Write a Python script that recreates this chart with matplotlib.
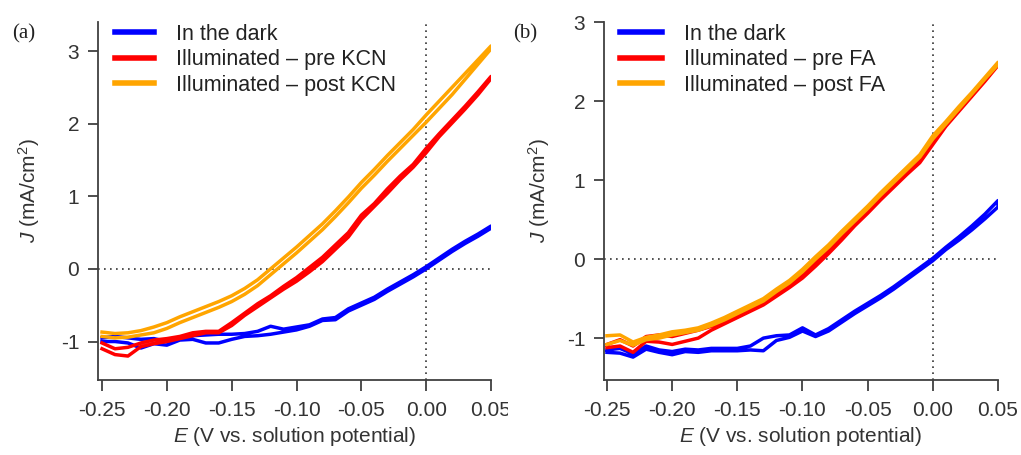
import matplotlib
matplotlib.use("Agg")
import matplotlib.pyplot as plt
from matplotlib.transforms import Bbox, TransformedBbox

plt.rcParams["font.family"] = ["Liberation Sans", "DejaVu Sans"]
plt.rcParams["mathtext.fontset"] = "custom"
plt.rcParams["mathtext.rm"] = "Liberation Sans"
plt.rcParams["mathtext.it"] = "Liberation Sans:italic"
plt.rcParams["axes.unicode_minus"] = False

# potential grid (V vs. solution potential), shared by every scan
E = [-0.25, -0.24, -0.23, -0.22, -0.21, -0.20, -0.19, -0.18, -0.17, -0.16,
     -0.15, -0.14, -0.13, -0.12, -0.11, -0.10, -0.09, -0.08, -0.07, -0.06,
     -0.05, -0.04, -0.03, -0.02, -0.01, 0.00, 0.01, 0.02, 0.03, 0.04, 0.05]

# (a) KCN treatment: forward / reverse current density (mA/cm2)
dark_a_fwd = [-0.95, -0.93, -0.95, -0.97, -0.96, -1.00, -0.96, -0.92, -0.91, -0.90,
              -0.90, -0.89, -0.86, -0.79, -0.83, -0.80, -0.77, -0.69, -0.67, -0.55,
              -0.47, -0.39, -0.28, -0.18, -0.08, 0.03, 0.15, 0.27, 0.38, 0.48, 0.59]
dark_a_rev = [-1.00, -1.00, -1.02, -1.09, -1.03, -1.05, -0.98, -0.97, -1.02, -1.02,
              -0.97, -0.93, -0.92, -0.90, -0.87, -0.84, -0.79, -0.71, -0.70, -0.58,
              -0.50, -0.42, -0.31, -0.21, -0.11, 0.00, 0.12, 0.24, 0.35, 0.45, 0.56]
pre_kcn_fwd = [-1.02, -1.10, -1.08, -1.02, -0.98, -0.96, -0.93, -0.88, -0.86, -0.86,
               -0.74, -0.61, -0.48, -0.37, -0.24, -0.12, 0.02, 0.16, 0.33, 0.50,
               0.74, 0.90, 1.10, 1.28, 1.44, 1.66, 1.86, 2.05, 2.24, 2.44, 2.65]
pre_kcn_rev = [-1.10, -1.18, -1.20, -1.07, -1.03, -1.00, -0.96, -0.92, -0.88, -0.88,
               -0.78, -0.64, -0.52, -0.40, -0.28, -0.17, -0.04, 0.10, 0.27, 0.44,
               0.68, 0.86, 1.04, 1.23, 1.40, 1.60, 1.82, 2.01, 2.20, 2.40, 2.62]
post_kcn_fwd = [-0.87, -0.89, -0.88, -0.85, -0.80, -0.74, -0.66, -0.59, -0.52, -0.45,
                -0.37, -0.27, -0.15, 0.00, 0.15, 0.30, 0.46, 0.62, 0.80, 0.99,
                1.19, 1.37, 1.56, 1.74, 1.92, 2.12, 2.31, 2.50, 2.69, 2.88, 3.07]
post_kcn_rev = [-0.93, -0.95, -0.94, -0.91, -0.88, -0.82, -0.74, -0.67, -0.60, -0.53,
                -0.45, -0.35, -0.23, -0.08, 0.07, 0.22, 0.38, 0.54, 0.72, 0.91,
                1.11, 1.29, 1.48, 1.66, 1.84, 2.02, 2.21, 2.40, 2.61, 2.82, 3.03]

# (b) FA treatment
dark_b_fwd = [-1.15, -1.13, -1.20, -1.10, -1.15, -1.17, -1.14, -1.15, -1.13, -1.13,
              -1.13, -1.10, -1.00, -0.97, -0.96, -0.87, -0.96, -0.88, -0.77, -0.66,
              -0.56, -0.46, -0.35, -0.23, -0.11, 0.01, 0.15, 0.28, 0.42, 0.57, 0.74]
dark_b_rev = [-1.18, -1.19, -1.24, -1.14, -1.18, -1.21, -1.17, -1.18, -1.16, -1.16,
              -1.16, -1.15, -1.16, -1.03, -0.99, -0.91, -0.98, -0.91, -0.80, -0.69,
              -0.59, -0.49, -0.38, -0.26, -0.14, -0.02, 0.12, 0.24, 0.37, 0.51, 0.66]
pre_fa_fwd = [-1.08, -1.02, -1.10, -0.98, -0.96, -0.98, -0.94, -0.90, -0.85, -0.78,
              -0.71, -0.63, -0.55, -0.44, -0.33, -0.20, -0.05, 0.11, 0.28, 0.45,
              0.61, 0.78, 0.94, 1.10, 1.26, 1.48, 1.70, 1.89, 2.08, 2.27, 2.47]
pre_fa_rev = [-1.12, -1.10, -1.18, -1.04, -1.05, -1.08, -1.04, -1.00, -0.90, -0.82,
              -0.74, -0.66, -0.58, -0.47, -0.36, -0.24, -0.09, 0.07, 0.24, 0.42,
              0.58, 0.75, 0.91, 1.07, 1.22, 1.45, 1.68, 1.87, 2.06, 2.25, 2.45]
post_fa_fwd = [-0.97, -0.96, -1.05, -0.99, -0.96, -0.92, -0.90, -0.87, -0.81, -0.74,
               -0.66, -0.58, -0.50, -0.38, -0.27, -0.13, 0.03, 0.18, 0.35, 0.51,
               0.67, 0.84, 1.00, 1.16, 1.32, 1.56, 1.74, 1.93, 2.11, 2.30, 2.49]
post_fa_rev = [-1.08, -1.03, -1.09, -1.02, -1.00, -0.96, -0.93, -0.90, -0.84, -0.77,
               -0.69, -0.61, -0.53, -0.41, -0.30, -0.16, 0.00, 0.15, 0.32, 0.48,
               0.64, 0.81, 0.97, 1.13, 1.29, 1.52, 1.71, 1.90, 2.09, 2.28, 2.46]

labels_a = ["In the dark", "Illuminated \u2013 pre KCN", "Illuminated \u2013 post KCN"]
labels_b = ["In the dark", "Illuminated \u2013 pre FA", "Illuminated \u2013 post FA"]
colors = ["#0000ff", "#ff0000", "#ffa500"]

x_ticks = [-0.25, -0.20, -0.15, -0.10, -0.05, 0.00, 0.05]
y_ticks = [-1, 0, 1, 2, 3]

TEXT = "#333333"
AXIS = "#404040"
W, H = 1021, 455

fig = plt.figure(figsize=(W / 100, H / 100), dpi=100)


def px_axes(left, right, top, bottom):
    return fig.add_axes([left / W, 1 - bottom / H, (right - left) / W, (bottom - top) / H])


def draw_panel(ax, scans, labels, xlim, ylim):
    for (fwd, rev), color, label in zip(scans, colors, labels):
        # one closed sweep: forward scan then back again
        ax.plot(E + E[::-1], fwd + rev[::-1], color=color, lw=2.5,
                solid_joinstyle="round", label=label, zorder=3)
    ax.axhline(0, color=TEXT, lw=1.2, ls=(0, (1, 2.6)), zorder=1)
    ax.axvline(0, color=TEXT, lw=1.2, ls=(0, (1, 2.6)), zorder=1)
    ax.set_xlim(*xlim)
    ax.set_ylim(*ylim)
    ax.set_xticks(x_ticks)
    ax.set_xticklabels([f"{t:.2f}" for t in x_ticks])
    ax.set_yticks(y_ticks)
    for side in ("top", "right"):
        ax.spines[side].set_visible(False)
    for side in ("left", "bottom"):
        ax.spines[side].set_color(AXIS)
        ax.spines[side].set_linewidth(1.3)
    ax.tick_params(axis="x", length=8, width=1.3, color=AXIS, labelsize=15,
                   labelcolor=TEXT, pad=7)
    ax.tick_params(axis="y", length=7.5, width=1.3, color=AXIS, labelsize=15,
                   labelcolor=TEXT, pad=6)
    ax.set_xlabel(r"$E$ (V vs. solution potential)", fontsize=15, color=TEXT, labelpad=4)
    ax.set_ylabel(r"$J$ (mA/cm$^2$)", fontsize=15, color=TEXT)


ax_a = px_axes(98, 491, 22, 380)
draw_panel(ax_a,
           [(dark_a_fwd, dark_a_rev), (pre_kcn_fwd, pre_kcn_rev), (post_kcn_fwd, post_kcn_rev)],
           labels_a, (-0.2531, 0.05), (-1.53, 3.40))
ax_a.yaxis.set_label_coords(-0.142, 0.53)

ax_b = px_axes(604, 998, 22, 380)
draw_panel(ax_b,
           [(dark_b_fwd, dark_b_rev), (pre_fa_fwd, pre_fa_rev), (post_fa_fwd, post_fa_rev)],
           labels_b, (-0.2523, 0.05), (-1.53, 3.0))
ax_b.yaxis.set_label_coords(-0.132, 0.53)

# left panel is cut off at the panel boundary
cut = TransformedBbox(Bbox([[0, 0], [508 / W, 1]]), fig.transFigure)
for lbl in ax_a.get_xticklabels():
    lbl.set_clip_box(cut)
    lbl.set_clip_on(True)

for ax, x0, x1 in ((ax_a, 115, 154), (ax_b, 620, 662)):
    ax.legend(loc="upper left", bbox_to_anchor=(x0 / W, 1 - 24 / H),
              bbox_transform=fig.transFigure, frameon=False, fontsize=15.5,
              handlelength=(x1 - x0) / 21.5, handletextpad=1.0,
              labelspacing=0.2, borderpad=0, borderaxespad=0)
    for line in ax.get_legend().get_lines():
        line.set_linewidth(4)
    for txt in ax.get_legend().get_texts():
        txt.set_color("#222222")

fig.text(12 / W, 1 - 34 / H, "(a)", family="Liberation Serif", fontsize=15,
         va="center", ha="left", color="#222222")
fig.text(513 / W, 1 - 34 / H, "(b)", family="Liberation Serif", fontsize=15,
         va="center", ha="left", color="#222222")

fig.savefig("out.png", dpi=100)
